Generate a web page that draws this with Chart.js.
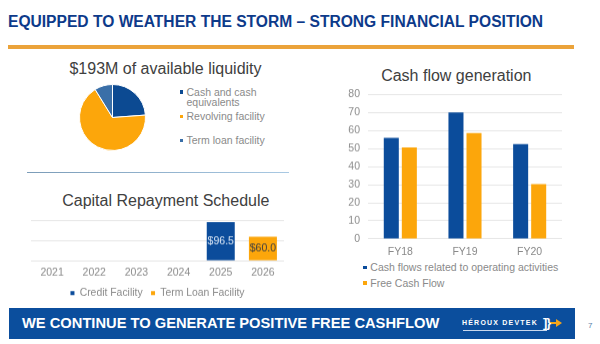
<!DOCTYPE html>
<html>
<head>
<meta charset="utf-8">
<script src="https://cdn.jsdelivr.net/npm/chart.js@4.4.1/dist/chart.umd.min.js"></script>
<style>
  body { margin: 0; width: 600px; height: 344px; position: relative; overflow: hidden; background: #fff;
         font-family: "Liberation Sans", Arial, sans-serif; }
  .abs { position: absolute; }
  #heading { left: 8px; top: 14px; font-size: 15.6px; font-weight: bold; color: #0d3a8a; white-space: nowrap; line-height: 1; }
  #rule { left: 8px; top: 45px; width: 566px; height: 4px; background: #eba33a; }
  .ctitle { font-size: 16px; color: #404040; white-space: nowrap; line-height: 1; transform: translateX(-50%); }
  #sep { left: 27px; top: 171.5px; width: 262px; height: 1.5px; background: linear-gradient(to right, #7b9cb8, #a9c9e3); }
  .leg { font-size: 10.5px; color: #8a8a8a; line-height: 12px; white-space: nowrap; }
  .sq { width: 3.5px; height: 3.5px; }
  #banner { left: 9px; top: 308px; width: 566px; height: 31px; background: #0b4e9d; }
  #bannerText { left: 22px; top: 316px; font-size: 14.7px; font-weight: bold; color: #fff; white-space: nowrap; line-height: 1; }
  #logo { left: 462px; top: 319px; font-size: 7px; font-weight: bold; color: #fff; letter-spacing: 1.2px; white-space: nowrap; line-height: 1; }
  #logoLine { left: 463px; top: 330px; width: 84px; height: 1px; background: #c9d8ee; }
  #logoMark { left: 543px; top: 316px; font-size: 13px; font-weight: bold; color: #fff; line-height: 1; letter-spacing: -1px; }
  #logoArrow { left: 550px; top: 322px; width: 7px; height: 2px; background: #f4a51c; }
  #logoHead { left: 556px; top: 319px; width: 0; height: 0; border-top: 4px solid transparent; border-bottom: 4px solid transparent; border-left: 6px solid #f4a51c; }
  #page { left: 588px; top: 322px; font-size: 8px; color: #5b7ea8; line-height: 1; }
</style>
</head>
<body>
<div id="heading" class="abs">EQUIPPED TO WEATHER THE STORM – STRONG FINANCIAL POSITION</div>
<div id="rule" class="abs"></div>

<div class="abs ctitle" style="left:165.5px; top:60.6px;">$193M of available liquidity</div>
<div class="abs" style="left:79px; top:84px; width:67px; height:67px;"><canvas id="pieChart"></canvas></div>
<div id="pieLegend"></div>
<div id="sep" class="abs"></div>

<div class="abs ctitle" style="left:165.8px; top:193px;">Capital Repayment Schedule</div>
<div class="abs" style="left:31px; top:214px; width:253px; height:93.55px;"><canvas id="repayChart"></canvas></div>

<div class="abs ctitle" style="left:456.3px; top:68px;">Cash flow generation</div>
<div class="abs" style="left:336px; top:80.4px; width:232px; height:177.9px;"><canvas id="cashChart"></canvas></div>
<div id="cashLegend"></div>

<div id="banner" class="abs"></div>
<div id="bannerText" class="abs">WE CONTINUE TO GENERATE POSITIVE FREE CASHFLOW</div>
<div id="logo" class="abs">HÉROUX DEVTEK</div>
<div id="logoLine" class="abs"></div>
<div id="logoArrow" class="abs"></div>
<div id="logoHead" class="abs"></div>
<div id="logoMark" class="abs">]}</div>
<div id="page" class="abs">7</div>

<script>
// liquidity split, $M
const liquidityLabels = ['Cash and cash equivalents', 'Revolving facility', 'Term loan facility'];
const liquidityValues = [46, 130, 17];
const liquidityColors = ['#0c4a92', '#fca60b', '#3a6fa8'];

// capital repayment, $M
const repayYears = ['2021', '2022', '2023', '2024', '2025', '2026'];
const creditFacility = [null, null, null, null, 96.5, null];
const termLoanFacility = [null, null, null, null, null, 60.0];

// cash flow, $M
const fiscalYears = ['FY18', 'FY19', 'FY20'];
const cashSeries = ['Cash flows related to operating activities', 'Free Cash Flow'];
const operatingCashFlow = [55.9, 70.0, 52.5];
const freeCashFlow = [50.7, 58.6, 30.3];

const BLUE = '#0b4c9b';
const ORANGE = '#fca60b';
const FONT = '"Liberation Sans", Arial, sans-serif';
const GREY_TEXT = '#8a8a8a';
const GRID = '#e6e6e6';

Chart.defaults.font.family = FONT;
Chart.defaults.animation = false;
Chart.defaults.events = [];

function legendRow(parent, text, x, y, color) {
    const t = document.createElement('div');
    t.className = 'abs leg';
    t.style.left = (x + 7) + 'px';
    t.style.top = y + 'px';
    t.textContent = text;
    parent.appendChild(t);
    if (color) {
        const s = document.createElement('div');
        s.className = 'abs sq';
        s.style.left = x + 'px';
        s.style.top = (y + 4.5) + 'px';
        s.style.background = color;
        parent.appendChild(s);
    }
}

// pie legend, first entry wraps onto two lines like the slide
const pieLegend = document.getElementById('pieLegend');
legendRow(pieLegend, 'Cash and cash', 179.5, 85.7, liquidityColors[0]);
legendRow(pieLegend, 'equivalents', 179.5, 96.3, null);
legendRow(pieLegend, liquidityLabels[1], 179.5, 110, liquidityColors[1]);
legendRow(pieLegend, liquidityLabels[2], 179.5, 134, liquidityColors[2]);

const cashLegend = document.getElementById('cashLegend');
legendRow(cashLegend, cashSeries[0], 363.3, 261.3, BLUE);
legendRow(cashLegend, cashSeries[1], 363.3, 276.7, ORANGE);

new Chart(document.getElementById('pieChart'), {
    type: 'pie',
    data: {
        labels: liquidityLabels,
        datasets: [{
            data: liquidityValues,
            backgroundColor: liquidityColors,
            borderColor: '#ffffff',
            borderWidth: 1
        }]
    },
    options: {
        responsive: true,
        maintainAspectRatio: false,
        plugins: { legend: { display: false }, tooltip: { enabled: false } }
    }
});

// value labels inside the repayment bars
const barLabels = {
    id: 'barLabels',
    afterDatasetsDraw(chart) {
        const ctx = chart.ctx;
        const colors = ['#dce8f6', '#404040'];
        chart.data.datasets.forEach((ds, i) => {
            chart.getDatasetMeta(i).data.forEach((bar, j) => {
                const v = ds.data[j];
                if (v === null) return;
                ctx.save();
                ctx.font = '10.5px ' + FONT;
                ctx.fillStyle = colors[i];
                ctx.textAlign = 'center';
                ctx.textBaseline = 'middle';
                ctx.fillText('$' + v.toFixed(1), bar.x, (bar.y + bar.base) / 2);
                ctx.restore();
            });
        });
    }
};

new Chart(document.getElementById('repayChart'), {
    type: 'bar',
    data: {
        labels: repayYears,
        datasets: [
            { label: 'Credit Facility', data: creditFacility, backgroundColor: BLUE },
            { label: 'Term Loan Facility', data: termLoanFacility, backgroundColor: ORANGE }
        ]
    },
    options: {
        responsive: true,
        maintainAspectRatio: false,
        layout: { padding: { top: 6.7, left: 0, right: 0, bottom: 0 } },
        categoryPercentage: 0.8,
        barPercentage: 0.83,
        scales: {
            x: {
                stacked: true,
                grid: { display: false, drawTicks: false },
                border: { display: false },
                ticks: { color: GREY_TEXT, font: { size: 10.5 }, padding: 5.7 },
                afterFit(scale) { scale.height = 18.3; }
            },
            y: {
                stacked: true,
                min: 0,
                max: 100,
                ticks: { display: false, stepSize: 50 },
                grid: { color: GRID, drawTicks: false },
                border: { display: false }
            }
        },
        plugins: {
            legend: {
                position: 'bottom',
                labels: { color: GREY_TEXT, font: { size: 10.4 }, boxWidth: 4, boxHeight: 4, padding: 8.45 }
            },
            tooltip: { enabled: false }
        }
    },
    plugins: [barLabels]
});

new Chart(document.getElementById('cashChart'), {
    type: 'bar',
    data: {
        labels: fiscalYears,
        datasets: [
            { label: cashSeries[0], data: operatingCashFlow, backgroundColor: BLUE },
            { label: cashSeries[1], data: freeCashFlow, backgroundColor: ORANGE }
        ]
    },
    options: {
        responsive: true,
        maintainAspectRatio: false,
        layout: { padding: { top: 10.7, left: 4.3, right: 6, bottom: 0 } },
        categoryPercentage: 0.558,
        barPercentage: 0.833,
        scales: {
            x: {
                grid: { display: false, drawTicks: false },
                border: { display: false },
                ticks: { color: GREY_TEXT, font: { size: 10.5 }, padding: 7.4 },
                afterFit(scale) { scale.height = 20; }
            },
            y: {
                min: 0,
                max: 80,
                ticks: { stepSize: 10, autoSkip: false, color: GREY_TEXT, font: { size: 10.5 }, padding: 8 },
                grid: { color: GRID, drawTicks: false },
                border: { display: false }
            }
        },
        plugins: {
            legend: { display: false },
            tooltip: { enabled: false }
        }
    }
});
</script>
</body>
</html>
